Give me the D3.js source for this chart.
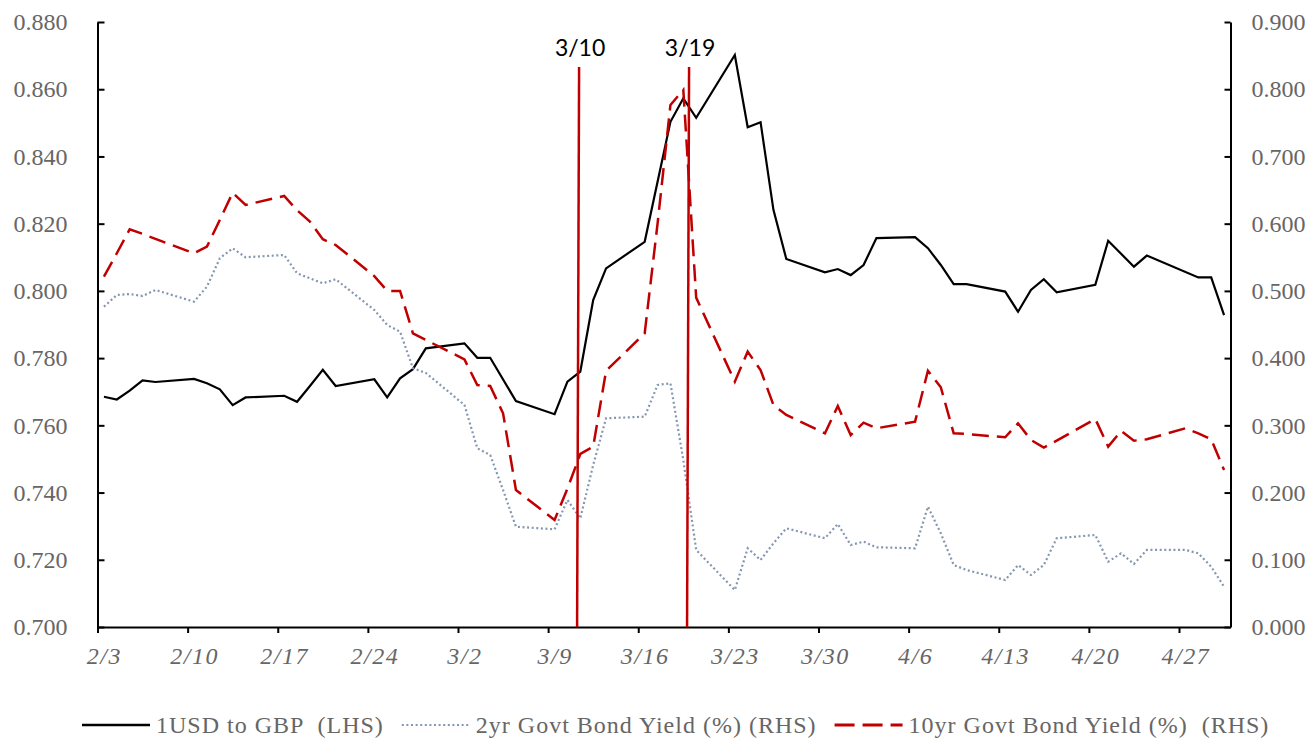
<!DOCTYPE html>
<html>
<head>
<meta charset="utf-8">
<script src="https://cdn.jsdelivr.net/npm/d3@7"></script>
<style>
  body { margin: 0; background: #fff; }
</style>
</head>
<body>
<div id="chart"></div>
<script>
// trading days, Feb 3 - Apr 30 2020
var dates = [
  "2/3","2/4","2/5","2/6","2/7","2/10","2/11","2/12","2/13","2/14",
  "2/17","2/18","2/19","2/20","2/21","2/24","2/25","2/26","2/27","2/28",
  "3/2","3/3","3/4","3/5","3/6","3/9","3/10","3/11","3/12","3/13",
  "3/16","3/17","3/18","3/19","3/20","3/23","3/24","3/25","3/26","3/27",
  "3/30","3/31","4/1","4/2","4/3","4/6","4/7","4/8","4/9","4/10",
  "4/13","4/14","4/15","4/16","4/17","4/20","4/21","4/22","4/23","4/24",
  "4/27","4/28","4/29","4/30"
];

var usdGbp = [
  0.7685,0.7677,0.7703,0.7734,0.7729,0.7738,0.7725,0.7707,0.7660,0.7683,
  0.7688,0.7670,0.7717,0.7765,0.7717,0.7737,0.7683,0.7740,0.7767,0.7829,
  0.7844,0.7801,0.7801,null,0.7672,0.7633,0.7730,0.7760,0.7973,0.8067,
  0.8146,null,0.8503,0.8573,0.8515,0.8702,0.8487,0.8502,0.8241,0.8095,
  0.8055,0.8065,0.8047,0.8077,0.8157,0.8160,0.8127,0.8077,0.8020,0.8020,
  0.7998,0.7938,0.8003,0.8035,0.7996,0.8018,0.8149,null,0.8072,0.8105,
  null,0.8040,0.8040,0.7928
];

var yield2y = [
  0.4765,0.4939,0.4954,0.4924,0.5013,0.4840,0.5063,0.5485,0.5634,0.5500,
  0.5534,0.5262,0.5187,0.5113,0.5173,0.4716,0.4493,0.4393,0.3849,0.3780,
  0.3303,0.2658,0.2559,0.2038,0.1492,0.1453,0.1889,0.1617,0.2410,0.3105,
  0.3129,0.3600,0.3626,0.2484,0.1146,0.0550,0.1171,0.0997,0.1245,0.1468,
  0.1320,0.1532,0.1220,0.1269,0.1186,0.1171,0.1790,0.1394,0.0922,0.0848,
  0.0699,0.0922,0.0774,0.0922,0.1320,0.1369,0.0972,0.1096,0.0937,0.1146,
  0.1146,0.1096,0.0897,0.0600
];

var yield10y = [
  0.5211,0.5560,0.5916,0.5848,0.5774,0.5559,0.5658,0.6055,0.6461,0.6278,
  0.6412,0.6200,0.6030,0.5768,0.5683,0.5220,0.5000,0.5000,0.4369,0.4270,
  0.3982,0.3600,0.3585,0.3179,0.2038,0.1592,0.2058,0.2574,0.2682,0.3810,
  0.4369,0.6000,0.7766,0.7989,0.4900,0.3650,0.4096,0.3823,0.3303,0.3154,
  0.2881,0.3288,0.2856,0.3040,0.2956,0.3055,0.3813,0.3566,0.2881,0.2871,
  0.2822,0.3030,0.2782,0.2668,0.2772,0.3094,0.2683,0.2916,0.2772,0.2792,
  0.2956,0.2881,0.2792,0.2336
];

var xTickLabels = ["2/3","2/10","2/17","2/24","3/2","3/9","3/16","3/23","3/30","4/6","4/13","4/20","4/27"];
var leftTicks = [0.70,0.72,0.74,0.76,0.78,0.80,0.82,0.84,0.86,0.88];
var rightTicks = [0,0.1,0.2,0.3,0.4,0.5,0.6,0.7,0.8,0.9];

var eventLabels = ["3/10","3/19"];
var eventTimes = ["2020-03-11T06:00:00Z","2020-03-19T19:00:00Z"];

var legendNames = ["1USD to GBP  (LHS)","2yr Govt Bond Yield (%) (RHS)","10yr Govt Bond Yield (%)  (RHS)"];

var W = 1310, H = 740;
var plotL = 97.5, plotR = 1230.5, plotT = 22, plotB = 627;
var serif = "'Liberation Serif', 'Times New Roman', serif";
var grey = "#666";

function parseDay(s) {
  var p = s.split("/");
  return new Date(Date.UTC(2020, +p[0] - 1, +p[1]));
}

var svg = d3.select("#chart")
  .append("svg")
  .attr("width", W)
  .attr("height", H);

var x = d3.scaleUtc()
  .domain([parseDay("2/3"), parseDay("5/1")])
  .range([plotL, plotR]);

var yL = d3.scaleLinear().domain([0.70, 0.88]).range([plotB, plotT]);
var yR = d3.scaleLinear().domain([0, 0.9]).range([plotB, plotT]);

var halfDay = (x(parseDay("2/4")) - x(parseDay("2/3"))) / 2;

function series(vals) {
  var out = [];
  dates.forEach(function(d, i) {
    if (vals[i] != null) out.push({ date: d3.utcHour.offset(parseDay(d), 12), v: vals[i] });
  });
  return out;
}

// axes
var axL = svg.append("g")
  .attr("transform", "translate(" + plotL + ",0)")
  .call(d3.axisLeft(yL).tickValues(leftTicks).tickFormat(d3.format(".3f"))
    .tickSizeInner(-7).tickSizeOuter(0).tickPadding(30));

var axR = svg.append("g")
  .attr("transform", "translate(" + plotR + ",0)")
  .call(d3.axisRight(yR).tickValues(rightTicks).tickFormat(d3.format(".3f"))
    .tickSizeInner(-6).tickSizeOuter(0).tickPadding(21));

var axB = svg.append("g")
  .attr("transform", "translate(0," + plotB + ")")
  .call(d3.axisBottom(x).tickValues(xTickLabels.map(parseDay))
    .tickFormat(d3.utcFormat("%-m/%-d"))
    .tickSizeInner(6).tickSizeOuter(0).tickPadding(14));

[axL, axR, axB].forEach(function(ax) {
  ax.attr("font-family", serif).attr("font-size", 24);
  ax.select(".domain").attr("stroke", "#000").attr("stroke-width", 2);
  ax.selectAll(".tick line").attr("stroke", "#000").attr("stroke-width", 2);
  ax.selectAll(".tick text").attr("fill", grey);
});
axB.selectAll(".tick text")
  .attr("x", halfDay)
  .attr("dy", "0.71em")
  .attr("font-style", "italic")
  .attr("letter-spacing", 1.5);

// lines
var lineL = d3.line().x(function(d) { return x(d.date); }).y(function(d) { return yL(d.v); });
var lineR = d3.line().x(function(d) { return x(d.date); }).y(function(d) { return yR(d.v); });

svg.append("path")
  .datum(series(usdGbp))
  .attr("fill", "none")
  .attr("stroke", "#000")
  .attr("stroke-width", 2.2)
  .attr("d", lineL);

svg.append("path")
  .datum(series(yield2y))
  .attr("fill", "none")
  .attr("stroke", "#8497b0")
  .attr("stroke-width", 2.2)
  .attr("stroke-dasharray", "2,2.6")
  .attr("d", lineR);

svg.append("path")
  .datum(series(yield10y))
  .attr("fill", "none")
  .attr("stroke", "#c00000")
  .attr("stroke-width", 2.5)
  .attr("stroke-dasharray", "17,8")
  .attr("d", lineR);

// event markers
eventTimes.forEach(function(t, i) {
  var ex = x(new Date(t));
  svg.append("line")
    .attr("x1", ex + 2).attr("y1", 67)
    .attr("x2", ex).attr("y2", plotB)
    .attr("stroke", "#c00000")
    .attr("stroke-width", 2.5);
  svg.append("text")
    .attr("x", ex + 3)
    .attr("y", 56)
    .attr("text-anchor", "middle")
    .attr("font-family", "Lato, 'Open Sans', sans-serif")
    .attr("font-size", 23)
    .attr("fill", "#000")
    .text(eventLabels[i]);
});

// legend
var legendStyles = [
  { stroke: "#000", width: 2.5, dash: null },
  { stroke: "#8497b0", width: 2.2, dash: "2,2.6" },
  { stroke: "#c00000", width: 3, dash: "20,8" }
];
var lx = 82, ly = 725;
legendNames.forEach(function(name, i) {
  var st = legendStyles[i];
  svg.append("line")
    .attr("x1", lx).attr("x2", lx + 68)
    .attr("y1", ly).attr("y2", ly)
    .attr("stroke", st.stroke)
    .attr("stroke-width", st.width)
    .attr("stroke-dasharray", st.dash);
  var t = svg.append("text")
    .attr("x", lx + 74)
    .attr("y", ly + 8)
    .attr("font-family", serif)
    .attr("font-size", 24)
    .attr("letter-spacing", 1)
    .style("white-space", "pre")
    .attr("fill", grey)
    .text(name);
  lx += 74 + t.node().getComputedTextLength() + 18;
});
</script>
</body>
</html>
